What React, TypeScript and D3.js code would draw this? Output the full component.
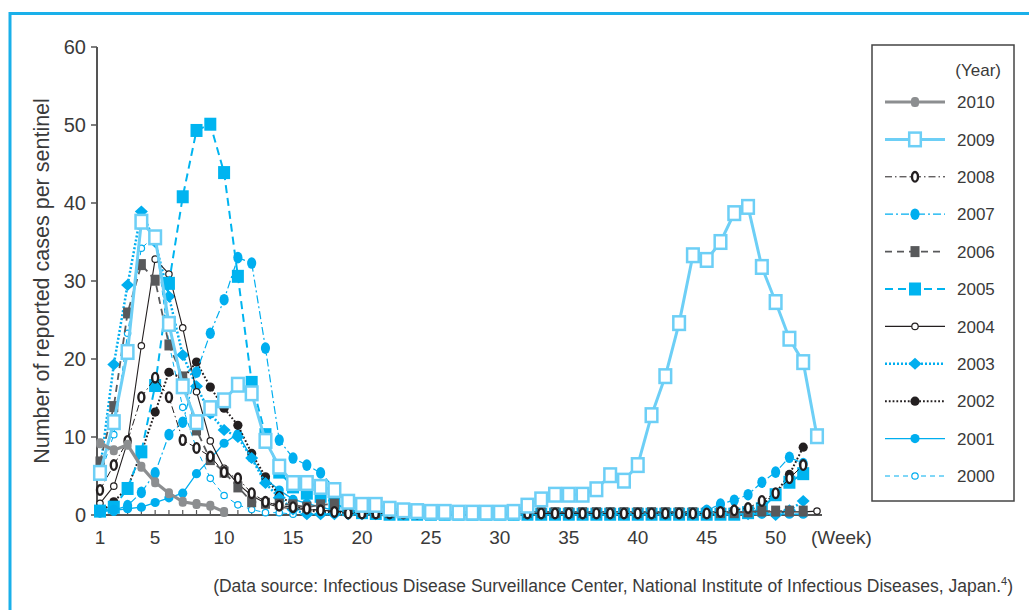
import React from "react";
import * as d3 from "d3";

const weeksTicks = [1, 5, 10, 15, 20, 25, 30, 35, 40, 45, 50];
const yTicks = [0, 10, 20, 30, 40, 50, 60];
const years = ["2010", "2009", "2008", "2007", "2006", "2005", "2004", "2003", "2002", "2001", "2000"];

const rep = (v: number, n: number) => Array.from({ length: n }, () => v);

const y2010 = [9.2, 8.3, 9.0, 6.2, 4.2, 2.8, 1.7, 1.4, 1.2, 0.4];
const y2009 = [5.4, 11.9, 20.9, 37.6, 35.6, 24.5, 16.5, 11.9, 13.7, 14.7, 16.7, 15.6, 9.5, 6.2, 4.1, 4.1, 3.6, 3.2, 1.7, 1.3, 1.3,
  0.8, 0.6, 0.5, 0.4, 0.4, 0.3, 0.3, 0.3,
  0.3, 0.4, 1.2, 2.0, 2.6, 2.6, 2.6, 3.3, 5.1, 4.4, 6.4, 12.8, 17.8, 24.6, 33.3, 32.7, 35.0, 38.7, 39.5, 31.8, 27.3, 22.6, 19.6, 10.1];
const y2008 = [3.2, 6.4, 9.5, 15.1, 17.6, 15.1, 9.6, 8.6, 7.5, 5.5, 4.7, 2.8, 1.7, 1.2, 1.0, 0.8, 0.6, 0.4, 0.2, 0.2, 0.2,
  ...rep(0.2, 23), 0.2, 0.4, 0.6, 0.9, 1.8, 2.8, 4.7, 6.4];
const y2007 = [0.4, 0.6, 1.2, 2.9, 5.4, 10.3, 11.9, 18.3, 23.3, 27.6, 33.0, 32.3, 21.4, 9.6, 7.3, 6.4, 5.4, 3.5, 1.5, 0.8, 0.4,
  ...rep(0.2, 23), 0.6, 1.4, 1.9, 2.6, 4.2, 5.5, 7.4, 6.6];
const y2006 = [6.8, 13.9, 25.9, 32.1, 30.1, 21.8, 17.7, 10.9, 7.1, 5.5, 3.6, 1.7, 1.5, 1.4, 1.3, 1.0, 1.3, 1.4, 0.6, 0.4, 0.3,
  ...rep(0.3, 26), 0.4, 0.5, 0.5, 0.5, 0.5];
const y2005 = [0.5, 1.0, 3.4, 8.1, 16.6, 29.7, 40.8, 49.3, 50.1, 43.9, 30.6, 17.0, 10.3, 5.5, 3.6, 2.8, 2.4, 1.5, 0.7, 0.3, 0.2,
  ...rep(0.1, 26), 0.3, 0.8, 2.6, 4.2, 5.3];
const y2004 = [1.5, 3.7, 9.4, 21.7, 32.8, 30.9, 24.0, 15.8, 9.5, 6.0, 4.0, 2.5, 1.5, 1.0, 0.8, 0.7, 0.6, 0.5, 0.4, 0.3, 0.3,
  ...rep(0.4, 31), 0.5];
const y2003 = [5.7, 19.3, 29.5, 38.9, 35.0, 28.0, 20.5, 16.5, 13.0, 10.9, 10.0, 7.3, 4.1, 2.2, 0.7, 0.1, 0.1, 0.1, 0.1, 0.1, 0.1,
  ...rep(0.1, 27), 0.3, 0.0, 0.6, 1.8];
const y2002 = [0.3, 1.7, 3.5, 8.0, 13.2, 18.3, 17.5, 19.6, 16.4, 13.7, 11.5, 7.9, 4.9, 2.5, 1.3, 0.6, 0.4, 0.3, 0.2, 0.2, 0.2,
  ...rep(0.1, 26), 0.6, 1.2, 2.8, 5.2, 8.7];
const y2001 = [0.5, 0.6, 0.8, 1.0, 1.6, 2.2, 2.8, 5.3, 7.2, 9.2, 10.4, 7.3, 4.6, 3.2, 2.0, 1.5, 1.0, 0.6, 0.4, 0.3, 0.2,
  ...rep(0.1, 31)];
const y2000 = [5.0, 10.3, 23.3, 34.2, 35.8, 22.0, 13.8, 8.5, 4.7, 2.5, 1.3, 0.7, 0.3, 0.3, 0.1, 0.1, 0.1, 0.1, 0.1, 0.1, 0.1,
  ...rep(0.1, 31)];

type Style = {
  color: string; width: number; dash?: string; marker: string; mfill: string; mstroke?: string; msw?: number;
};

const styles: Record<string, Style> = {
  "2010": { color: "#8c8e90", width: 3.2, marker: "pill", mfill: "#8c8e90" },
  "2009": { color: "#6dcff6", width: 3, marker: "square", mfill: "#ffffff", mstroke: "#6dcff6", msw: 2.5 },
  "2008": { color: "#231f20", width: 1, dash: "7,3,1.5,3", marker: "oval", mfill: "#ffffff", mstroke: "#231f20", msw: 2.4 },
  "2007": { color: "#00aeef", width: 1.2, dash: "8,3,2,3", marker: "ellipse", mfill: "#00aeef" },
  "2006": { color: "#58595b", width: 1.8, dash: "7,5", marker: "square", mfill: "#58595b" },
  "2005": { color: "#00b4f0", width: 2, dash: "8,5", marker: "squareBig", mfill: "#00b4f0" },
  "2004": { color: "#231f20", width: 1.1, marker: "circleSmall", mfill: "#ffffff", mstroke: "#231f20", msw: 1.2 },
  "2003": { color: "#00aeef", width: 2.5, dash: "2,2", marker: "diamond", mfill: "#00aeef" },
  "2002": { color: "#231f20", width: 2, dash: "1.8,2", marker: "dot", mfill: "#231f20" },
  "2001": { color: "#00aeef", width: 1.3, marker: "dot", mfill: "#00aeef" },
  "2000": { color: "#00aeef", width: 1, dash: "5,4", marker: "circleSmall", mfill: "#ffffff", mstroke: "#00aeef", msw: 1.2 },
};

const seriesData: Record<string, number[]> = {
  "2010": y2010, "2009": y2009, "2008": y2008, "2007": y2007, "2006": y2006, "2005": y2005,
  "2004": y2004, "2003": y2003, "2002": y2002, "2001": y2001, "2000": y2000,
};

const FONT = "'Liberation Sans', Arial, Helvetica, sans-serif";
const TXT = "#3a3a3a";

function Marker({ s, cx, cy }: { s: Style; cx: number; cy: number }) {
  const stroke = s.mstroke || "none";
  const sw = s.msw || 0;
  switch (s.marker) {
    case "pill":
      return <rect x={cx - 4} y={cy - 5} width={8} height={10} rx={3.5} fill={s.mfill} />;
    case "square":
      if (s.mstroke) return <rect x={cx - 5.8} y={cy - 6.8} width={11.6} height={13.6} fill={s.mfill} stroke={stroke} strokeWidth={sw} />;
      return <rect x={cx - 4.5} y={cy - 5.5} width={9} height={11} fill={s.mfill} />;
    case "squareBig":
      return <rect x={cx - 6} y={cy - 6.5} width={12} height={13} fill={s.mfill} />;
    case "oval":
      return <ellipse cx={cx} cy={cy} rx={3} ry={4.8} fill={s.mfill} stroke={stroke} strokeWidth={sw} />;
    case "ellipse":
      return <ellipse cx={cx} cy={cy} rx={4.6} ry={5.8} fill={s.mfill} />;
    case "circleSmall":
      return <circle cx={cx} cy={cy} r={3.2} fill={s.mfill} stroke={stroke} strokeWidth={sw} />;
    case "diamond":
      return <path d={`M${cx},${cy - 6} L${cx + 6.5},${cy} L${cx},${cy + 6} L${cx - 6.5},${cy} Z`} fill={s.mfill} />;
    case "dot":
      return <circle cx={cx} cy={cy} r={4.6} fill={s.mfill} />;
    default:
      return null;
  }
}

export default function App() {
  const x = d3.scaleLinear().domain([1, 53]).range([100, 817]);
  const y = d3.scaleLinear().domain([0, 60]).range([515, 47]);
  const line = d3.line<number>().x((_, i) => x(i + 1)).y((d) => y(d));
  const drawOrder = [...years].reverse();
  const allWeeks = d3.range(1, 53);

  return (
    <svg width={1029} height={610} style={{ position: "absolute", left: 0, top: 0, background: "#fff" }}>
      <rect x={10} y={13.5} width={1100} height={700} fill="none" stroke="#1ab0ea" strokeWidth={3} />

      {/* axes */}
      <line x1={97} y1={y(60)} x2={97} y2={y(0) + 1} stroke="#555" strokeWidth={2} />
      <line x1={96} y1={y(0)} x2={822} y2={y(0)} stroke="#555" strokeWidth={2} />
      {yTicks.map((t) => (
        <g key={t}>
          <line x1={91} x2={97} y1={y(t)} y2={y(t)} stroke="#555" strokeWidth={1.5} />
          <text x={86} y={y(t)} dy="0.36em" textAnchor="end" fontFamily={FONT} fontSize={20} fill={TXT}>{t}</text>
        </g>
      ))}
      {allWeeks.map((w) => (
        <line key={w} x1={x(w)} x2={x(w)} y1={y(0)} y2={y(0) - 5} stroke="#555" strokeWidth={1.2} />
      ))}
      {weeksTicks.map((t) => (
        <text key={t} x={x(t)} y={537} dy="0.36em" textAnchor="middle" fontFamily={FONT} fontSize={19} fill={TXT}>{t}</text>
      ))}
      <text x={811} y={537} dy="0.36em" fontFamily={FONT} fontSize={19} fill={TXT}>(Week)</text>
      <text transform={`translate(49,281) rotate(-90)`} textAnchor="middle" fontFamily={FONT} fontSize={21.5} fill={TXT}>
        Number of reported cases per sentinel
      </text>

      {/* series */}
      {drawOrder.map((yr) => {
        const s = styles[yr];
        const data = seriesData[yr];
        return (
          <g key={yr}>
            <path d={line(data) || ""} fill="none" stroke={s.color} strokeWidth={s.width} strokeDasharray={s.dash} strokeLinejoin="round" />
            {data.map((v, i) => (
              <Marker key={i} s={s} cx={x(i + 1)} cy={y(v)} />
            ))}
          </g>
        );
      })}

      {/* legend */}
      <rect x={872} y={45} width={142} height={456} fill="#fff" stroke="#444" strokeWidth={1.5} />
      <text x={1001} y={70} dy="0.36em" textAnchor="end" fontFamily={FONT} fontSize={17} fill={TXT}>(Year)</text>
      {years.map((yr, i) => {
        const s = styles[yr];
        const cy = 102 + i * 37.4;
        return (
          <g key={yr}>
            <line x1={885} x2={945} y1={cy} y2={cy} stroke={s.color} strokeWidth={s.width} strokeDasharray={s.dash} />
            <Marker s={s} cx={915} cy={cy} />
            <text x={957} y={cy} dy="0.36em" fontFamily={FONT} fontSize={17} fill={TXT}>{yr}</text>
          </g>
        );
      })}

      <text x={1013} y={586} dy="0.36em" textAnchor="end" fontFamily={FONT} fontSize={17.5} fill={TXT}>
        (Data source: Infectious Disease Surveillance Center, National Institute of Infectious Diseases, Japan.
        <tspan dy="-7" fontSize={11}>4</tspan>
        <tspan dy="7">)</tspan>
      </text>
    </svg>
  );
}
